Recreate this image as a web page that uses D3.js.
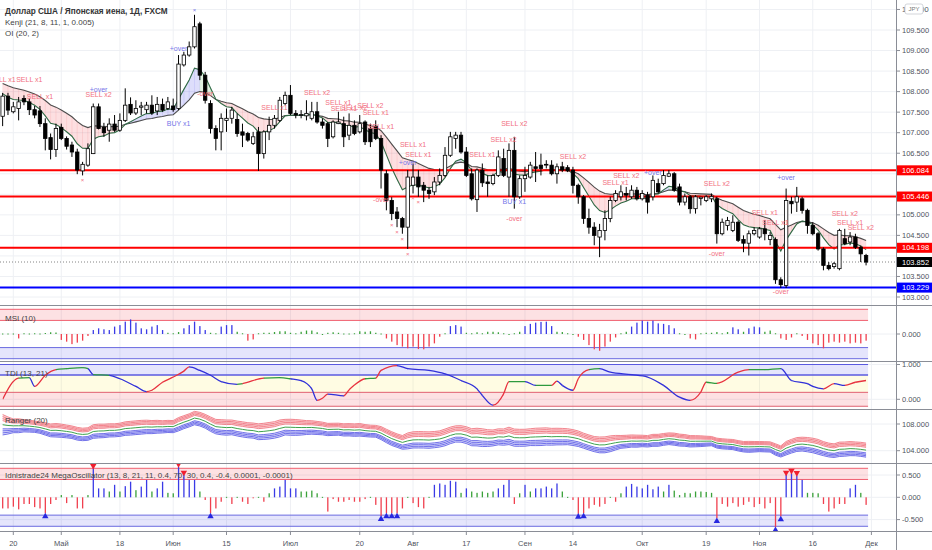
<!DOCTYPE html>
<html><head><meta charset="utf-8">
<script src="https://cdn.jsdelivr.net/npm/d3@7"></script>
<style>body{margin:0;background:#fff;}svg{display:block;font-family:"Liberation Sans",Arial,sans-serif;}</style>
</head><body><svg id="c" width="932" height="550"></svg>
<script>
// ---------------- DATA ----------------
const firstBar = -2; // bar index of first candle (Apr 16); index 0 = Apr 20
const opens = [
107.40,107.89,107.51,107.59,107.83,107.75,107.56,107.53,107.22,106.88,
106.59,107.13,106.86,106.70,106.53,106.07,106.21,106.49,107.63,107.13,
107.06,107.21,107.06,107.30,107.69,107.48,107.62,107.56,107.67,107.53,
107.69,107.59,107.65,107.59,108.65,108.89,109.09,109.65,108.40,107.71,
107.10,107.02,107.30,107.35,107.32,107.02,106.98,106.74,107.02,106.49,
107.02,107.18,107.30,107.71,107.91,107.47,107.43,107.41,107.35,107.51,
107.26,107.22,106.90,107.22,107.22,106.94,107.18,107.02,107.26,107.10,
107.16,106.86,106.00,105.35,105.07,104.91,104.70,105.72,105.92,105.72,
105.60,105.56,105.80,105.96,106.45,106.86,106.94,106.53,106.00,105.37,
106.09,105.80,105.76,105.96,106.37,105.92,106.57,105.44,105.88,105.92,
106.17,106.21,106.21,106.21,106.00,106.17,106.15,106.09,105.72,105.44,
104.91,104.70,104.46,104.62,104.91,105.35,105.44,105.52,105.44,105.60,
105.39,105.48,105.44,105.76,105.76,105.94,106.00,105.68,105.31,105.44,
105.15,105.40,105.35,105.39,105.39,104.54,104.74,104.62,104.82,104.40,
104.31,104.54,104.46,104.66,104.40,104.40,103.42,103.28,105.33,105.31,
105.39,105.11,104.74,104.54,104.17,103.77,103.74,103.69,104.42,104.34,
104.46,104.21,104.01];
const highs = [
107.97,107.97,107.75,107.87,107.91,107.83,107.65,107.65,107.35,106.98,
107.22,107.22,106.91,106.78,106.61,106.29,106.74,107.71,107.71,107.24,
107.35,107.43,107.47,108.08,107.86,107.79,107.75,107.75,107.91,107.87,
107.83,107.87,107.83,108.89,108.97,109.22,109.87,109.70,108.48,107.79,
107.18,107.47,107.59,107.63,107.47,107.22,107.02,107.02,107.14,107.06,
107.39,107.43,107.87,108.00,108.16,107.55,107.55,107.79,107.75,107.75,
107.35,107.26,107.30,107.51,107.39,107.47,107.30,107.43,107.30,107.22,
107.30,106.94,106.09,105.43,105.19,104.95,106.09,106.25,106.09,105.80,
105.68,105.92,106.13,106.65,107.02,107.02,107.02,106.65,106.13,106.13,
106.25,105.96,106.00,106.57,106.61,106.74,106.90,105.96,106.17,106.29,
106.53,106.49,106.33,106.33,106.25,106.29,106.21,106.17,105.76,105.48,
105.15,104.82,104.78,105.11,105.44,105.60,105.72,105.68,105.72,105.68,
105.60,105.56,105.96,105.88,106.09,106.09,106.04,105.76,105.52,105.48,
105.48,105.44,105.48,105.52,105.44,104.91,104.95,104.99,104.86,104.50,
104.62,104.70,104.70,104.87,104.58,104.45,103.48,105.64,105.44,105.68,
105.44,105.15,104.82,104.58,104.21,103.85,103.85,104.66,104.66,104.58,
104.54,104.25,104.05];
const lows = [
107.16,107.43,107.47,107.30,107.67,107.43,107.35,107.14,106.57,106.35,
106.41,106.82,106.59,106.41,105.99,105.96,106.17,106.48,107.08,106.90,
106.78,107.02,107.02,107.26,107.43,107.43,107.43,107.47,107.43,107.43,
107.51,107.55,107.51,107.55,108.61,108.85,109.05,108.28,107.71,106.98,
106.57,106.57,107.02,107.22,106.90,106.65,106.78,106.70,106.07,106.37,
106.82,107.10,107.26,107.67,107.43,107.35,107.35,107.30,107.30,107.22,
107.10,106.65,106.86,107.21,106.65,106.82,106.94,106.98,106.70,106.65,
106.82,105.64,105.11,104.87,104.70,104.54,104.17,105.52,105.44,105.31,
105.39,105.48,105.72,105.92,106.41,106.61,106.49,105.92,105.35,105.07,
105.68,105.44,105.72,105.92,105.92,105.44,105.15,105.39,105.56,105.88,
105.80,105.96,106.13,105.96,105.76,106.04,106.04,105.52,105.27,104.78,
104.54,104.26,103.97,104.38,104.82,105.31,105.35,105.35,105.39,105.35,
105.35,105.03,105.35,105.52,105.72,105.92,105.56,105.23,105.23,105.03,
105.03,105.23,105.31,105.31,104.30,104.50,104.62,104.58,104.34,104.09,
104.01,104.50,104.42,104.38,104.26,103.32,103.22,103.22,105.03,105.07,
105.03,104.54,104.50,104.13,103.65,103.65,103.69,103.65,104.26,104.26,
104.17,103.85,103.77];
const closes = [
107.89,107.55,107.63,107.75,107.75,107.56,107.43,107.22,106.86,106.59,
107.10,106.86,106.67,106.53,106.09,106.23,106.61,107.63,107.10,107.00,
107.21,107.06,107.30,107.67,107.48,107.59,107.65,107.67,107.48,107.69,
107.55,107.75,107.56,108.67,108.89,109.09,109.58,108.40,107.79,107.10,
106.86,107.35,107.35,107.55,106.98,106.94,106.82,106.90,106.49,107.02,
107.18,107.35,107.79,107.91,107.47,107.43,107.44,107.47,107.51,107.26,
107.18,106.86,107.26,107.26,106.90,107.18,106.98,107.22,106.78,106.78,
106.86,106.09,105.35,105.03,104.91,104.70,105.92,105.92,105.68,105.60,
105.52,105.80,105.96,106.45,106.90,106.94,106.53,105.96,105.39,106.09,
105.78,105.76,105.96,106.41,105.96,106.57,105.44,105.88,105.96,106.21,
106.13,106.13,106.23,106.00,106.17,106.09,106.07,105.72,105.44,104.91,
104.70,104.50,104.62,104.91,105.35,105.52,105.56,105.48,105.60,105.39,
105.52,105.31,105.84,105.56,105.96,106.00,105.60,105.31,105.44,105.15,
105.44,105.43,105.44,105.45,104.54,104.82,104.86,104.82,104.38,104.31,
104.54,104.62,104.66,104.54,104.50,103.42,103.30,105.35,105.27,105.44,
105.11,104.74,104.54,104.17,103.77,103.69,103.81,104.62,104.30,104.46,
104.21,104.05,103.85];

// Kenji EMA seeds read at the first visible bar
const kenjiPeriods = [8, 21];
const kenjiSeeds = [107.95, 108.20];

// OI levels
const redLevels = [106.084, 105.446, 104.198];
const blueLevels = [103.229];
const lastPrice = 103.852;

// Signal annotations on the price pane: bar index, text, price level
const signalBar   = [-2,3,5,16,16,31,31,36,49,57,61,62,64,67,68,69,69,74,75,76,88,92,94,94,94,105,113,115,120,132,132,141,143,144,145,156,157,159];
const signalText  = ["SELL x1","SELL x1","SELL x1","+over","SELL x2","+over","BUY x1","-over","SELL x1","SELL x2","SELL x1","SELL x1","SELL x2","SELL x2","SELL x1","SELL x1","-over","+over","SELL x1","SELL x1","SELL x1","SELL x2","SELL x2","BUY x1","-over","SELL x2","SELL x1","SELL x2","+over","SELL x2","-over","SELL x1","SELL x1","-over","+over","SELL x2","SELL x1","SELL x2"];
const signalPrice = [108.30,108.30,107.89,108.06,107.94,109.04,107.23,107.96,107.62,107.99,107.74,107.60,107.62,107.65,107.50,107.16,105.38,106.28,106.72,106.48,106.48,106.84,107.23,105.33,104.91,106.43,105.79,105.96,106.04,105.77,104.06,105.06,104.82,103.13,105.91,105.04,104.82,104.70];
const lowMarkBars = [13,71,72,73,74,75,76];
const highMarkBars = [34];

// MSI (10)
const msi = [
0.02,0.02,0.02,-0.18,0.03,0.02,0.03,0.02,0.04,0.07,
0.06,-0.24,-0.31,-0.41,-0.35,-0.27,-0.08,0.16,0.23,0.19,
0.16,0.30,0.36,0.50,0.59,0.46,0.23,0.19,0.30,0.36,
0.16,0.05,0.03,0.08,0.23,0.36,0.50,0.32,0.16,0.05,
0.03,0.30,0.36,0.36,0.09,0.03,-0.27,-0.22,0.03,0.05,
0.05,0.08,0.11,0.11,0.05,0.03,0.09,0.14,0.14,0.07,
0.00,0.05,0.07,0.05,0.02,0.02,0.03,0.11,0.09,0.11,
0.05,0.02,-0.18,-0.31,-0.45,-0.51,-0.58,-0.51,-0.61,-0.62,
-0.51,-0.38,-0.11,0.03,0.32,0.36,0.30,0.05,0.03,0.07,
0.03,0.09,0.09,0.07,0.03,0.00,0.03,0.09,0.32,0.41,
0.46,0.49,0.50,0.32,0.09,0.08,0.03,0.00,-0.11,-0.24,
-0.45,-0.62,-0.68,-0.51,-0.31,-0.14,0.03,0.09,0.30,0.46,
0.54,0.50,0.54,0.43,0.41,0.36,0.23,0.03,0.00,-0.18,
-0.22,0.03,0.05,0.05,0.08,0.03,0.08,0.27,0.19,0.09,
0.23,0.30,0.27,0.09,0.14,0.03,-0.18,-0.24,-0.14,0.03,
-0.08,-0.24,-0.38,-0.45,-0.58,-0.35,-0.31,-0.35,-0.31,-0.38,
-0.35,-0.38,-0.27];
const msiLevels = [1.0, 0.55, -0.55, -1.0];

// TDI (13, 21): points
const tdiBar = [-2,1,3,4,6,8,10,13,14,15,18,20,23,25,26,28,30,32,33,35,37,39,42,43,47,50,52,54,56,57,58,59,62,63,64,66,68,69,72,74,78,81,84,87,88,90,92,93,96,98,101,102,103,105,106,108,110,112,116,119,122,125,127,129,130,132,136,138,141,144,146,149,150,152,154,156,158,160];
const tdiVal = [0.00,0.61,0.62,0.37,0.69,0.85,0.88,0.91,0.88,0.71,0.69,0.59,0.37,0.22,0.26,0.49,0.64,0.81,0.93,0.83,0.69,0.51,0.43,0.45,0.61,0.62,0.59,0.54,0.30,-0.03,0.03,0.15,0.10,0.27,0.41,0.59,0.61,0.83,0.97,0.88,0.83,0.73,0.54,0.30,0.11,-0.17,0.16,0.51,0.51,0.40,0.40,0.52,0.40,0.26,0.59,0.85,0.88,0.78,0.71,0.64,0.40,0.06,-0.03,0.21,0.49,0.46,0.78,0.85,0.85,0.88,0.54,0.45,0.37,0.30,0.45,0.40,0.49,0.54];
const tdiLevels = [1.0, 0.7, 0.2, -0.2];

// Ranger (20)
const rangerPeriod = 20, rangerLines = 4;

// Idnistrade24 MegaOscillator
const mega = [
-0.25,-0.25,-0.21,-0.27,-0.15,-0.15,-0.22,-0.25,-0.36,-0.15,
-0.06,0.05,-0.13,0.05,-0.25,-0.25,0.05,0.65,0.20,0.20,
0.13,0.28,0.13,0.25,0.35,0.16,0.24,0.39,0.13,0.20,
0.35,0.10,0.09,0.69,0.50,0.39,0.39,0.13,-0.06,-0.36,
-0.25,-0.10,0.01,-0.15,0.01,-0.10,-0.15,-0.02,0.01,-0.10,
0.09,0.20,0.24,0.39,0.20,0.20,0.13,0.13,0.15,0.09,
0.01,-0.32,-0.04,-0.10,-0.10,-0.06,-0.10,-0.10,-0.04,0.01,
-0.17,-0.42,-0.36,-0.36,-0.36,-0.25,0.01,-0.13,-0.22,-0.25,
0.01,0.28,0.31,0.28,0.37,0.35,0.10,0.20,0.13,0.10,
0.13,0.10,0.13,0.20,0.28,0.39,-0.15,0.09,0.28,0.13,
0.20,0.20,0.24,0.20,0.31,0.13,0.01,-0.06,-0.37,-0.36,
-0.25,-0.17,-0.21,-0.15,0.01,-0.10,0.09,0.24,0.30,0.24,
0.20,0.28,0.18,0.24,0.13,0.28,0.15,0.05,0.10,0.09,
0.13,0.13,0.12,0.10,-0.47,-0.15,-0.21,-0.13,-0.21,-0.17,
-0.10,-0.22,-0.15,-0.25,-0.13,-0.67,-0.43,0.50,0.54,0.49,
0.39,0.10,0.10,0.09,-0.15,-0.32,-0.25,-0.15,-0.15,0.20,
0.28,0.10,-0.17];
const megaLevels = [0.65, 0.4, -0.4, -0.65];
const megaSellBars = [15,31,32,145,146,147];
const megaBuyBars = [6,37,69,70,71,72,106,107,132,143,144];

// X axis tick labels (bar index of the date)
const xTickBars = [0,9,20,30,40,52,65,75,85,96,105,118,130,140,150,161];
const xTickLabels = ["20","Май","18","Июн","15","Июл","20","Авг","17","Сен","14","Окт","19","Ноя","16","Дек"];

// Titles
const mainTitle = "Доллар США / Японская иена, 1Д, FXCM";
const legendLines = ["Kenji (21, 8, 11, 1, 0.005)", "OI (20, 2)"];
const paneTitles = ["MSI (10)", "TDI (13, 21)", "Ranger (20)", "Idnistrade24 MegaOscillator (13, 8, 21, 11, 0.4, 70, 30, 0.4, -0.4, 0.0001, -0.0001)"];

// ---------------- CHART ----------------
const svg = d3.select("#c");
const plotR = 896, W = 932;
const bars = opens.map((o,k)=>({i:k+firstBar,o:o,h:highs[k],l:lows[k],c:closes[k]}));
const x = d3.scaleLinear().domain([0,161]).range([13.3,871.4]);
const lastX = x(bars[bars.length-1].i) + 2;

const panes = {
  main:{top:0,bot:305}, msi:{top:306,bot:361}, tdi:{top:362,bot:409},
  ranger:{top:410,bot:463}, mega:{top:464,bot:531}
};
const yMain = d3.scaleLinear().domain([103,109.5]).range([297,30]);
const yMsi = d3.scaleLinear().domain([-1,1]).range([358.7,309.3]);
const yTdi = d3.scaleLinear().domain([0,1]).range([399.3,364.5]);
const yRng = d3.scaleLinear().domain([104,108]).range([450.7,424]);
const yMega = d3.scaleLinear().domain([0,0.5]).range([497.3,475]);

const defs = svg.append("defs");
Object.entries(panes).forEach(([k,p])=>{
  defs.append("clipPath").attr("id","clip-"+k).append("rect")
    .attr("x",0).attr("y",p.top).attr("width",plotR).attr("height",p.bot-p.top);
});
const gridC = "#eef0f4";
const g = svg.append("g");

// vertical grid
g.selectAll(".vg").data(xTickBars).enter().append("line")
  .attr("x1",d=>x(d)).attr("x2",d=>x(d)).attr("y1",0).attr("y2",531)
  .attr("stroke",gridC).attr("stroke-width",1);
// main horizontal grid
const mainTicks = d3.range(103, 110.01, 0.5);
g.selectAll(".hg").data(mainTicks).enter().append("line")
  .attr("x1",0).attr("x2",plotR).attr("y1",d=>yMain(d)).attr("y2",d=>yMain(d))
  .attr("stroke",gridC);
// indicator grids
[[yMsi,[0]],[yTdi,[0,1]],[yRng,[104,108]],[yMega,[-0.5,0,0.5]]].forEach(([sc,vals])=>{
  vals.forEach(v=>g.append("line").attr("x1",0).attr("x2",plotR).attr("y1",sc(v)).attr("y2",sc(v)).attr("stroke",gridC));
});

// ---------- main pane ----------
const gm = svg.append("g").attr("clip-path","url(#clip-main)");
function ema(src,n,seed){const a=2/(n+1);let prev=seed;return src.map((v,k)=>{prev = k===0?seed:prev+a*(v-prev);return prev;});}
const fast = ema(closes,kenjiPeriods[0],kenjiSeeds[0]);
const slow = ema(closes,kenjiPeriods[1],kenjiSeeds[1]);
for(let k=0;k<bars.length-1;k++){
  const f = (fast[k]+fast[k+1])/2, s=(slow[k]+slow[k+1])/2;
  let col;
  if(f<s) col="rgba(242,54,69,0.16)";
  else col = (slow[k+1]>=slow[k]) ? "rgba(90,90,235,0.2)" : "rgba(76,175,80,0.17)";
  const x0=x(bars[k].i), x1=x(bars[k+1].i);
  gm.append("path").attr("d",`M${x0},${yMain(fast[k])}L${x1},${yMain(fast[k+1])}L${x1},${yMain(slow[k+1])}L${x0},${yMain(slow[k])}Z`)
    .attr("fill",col).attr("stroke",col).attr("stroke-width",0.3);
}
const lineGen = (arr,sc)=>d3.line().x((d,k)=>x(bars[k].i)).y(d=>sc(d))(arr);
gm.append("path").attr("d",lineGen(slow,yMain)).attr("fill","none").attr("stroke","#4d4d4d").attr("stroke-width",1.1);
gm.append("path").attr("d",lineGen(fast,yMain)).attr("fill","none").attr("stroke","#2f6a45").attr("stroke-width",1.1);

// OI levels
redLevels.forEach(v=>gm.append("line").attr("x1",0).attr("x2",plotR).attr("y1",yMain(v)).attr("y2",yMain(v)).attr("stroke","#ff0000").attr("stroke-width",2));
blueLevels.forEach(v=>gm.append("line").attr("x1",0).attr("x2",plotR).attr("y1",yMain(v)).attr("y2",yMain(v)).attr("stroke","#0000ff").attr("stroke-width",2));
gm.append("line").attr("x1",0).attr("x2",plotR).attr("y1",yMain(lastPrice)).attr("y2",yMain(lastPrice))
  .attr("stroke","#666").attr("stroke-width",0.8).attr("stroke-dasharray","1,2");

// candles
const cg = gm.append("g");
bars.forEach(b=>{
  const cx = x(b.i);
  cg.append("line").attr("x1",cx).attr("x2",cx).attr("y1",yMain(b.h)).attr("y2",yMain(b.l)).attr("stroke","#000").attr("stroke-width",1);
  const top = yMain(Math.max(b.o,b.c)), bot=yMain(Math.min(b.o,b.c));
  const up = b.c>=b.o;
  cg.append("rect").attr("x",cx-1.7).attr("y",top).attr("width",3.4).attr("height",Math.max(0.8,bot-top))
    .attr("fill",up?"#fff":"#000").attr("stroke","#000").attr("stroke-width",0.8);
});

// signals
signalBar.forEach((b,k)=>{
  const t = signalText[k];
  const col = (t.startsWith("SELL")||t==="-over") ? "#f2707f" : "#7575e8";
  gm.append("text").attr("x",x(b)).attr("y",yMain(signalPrice[k])+2.5).attr("text-anchor","middle")
    .attr("font-size",7).attr("fill",col).text(t);
});
lowMarkBars.forEach(b=>{
  const bar = bars[b-firstBar];
  gm.append("text").attr("x",x(b)).attr("y",yMain(bar.l)+7).attr("text-anchor","middle").attr("font-size",6).attr("fill","#f2707f").text("×");
});
highMarkBars.forEach(b=>{
  const bar = bars[b-firstBar];
  gm.append("text").attr("x",x(b)).attr("y",yMain(bar.h)-3).attr("text-anchor","middle").attr("font-size",6).attr("fill","#7575e8").text("×");
});

// legend
svg.append("text").attr("x",5).attr("y",13.5).attr("font-size",8.2).attr("font-weight",600).attr("fill","#333").text(mainTitle);
legendLines.forEach((t,k)=>svg.append("text").attr("x",5).attr("y",25+k*11.3).attr("font-size",8).attr("fill","#444").text(t));

// ---------- MSI pane ----------
const gs = svg.append("g").attr("clip-path","url(#clip-msi)");
gs.append("rect").attr("x",0).attr("width",lastX).attr("y",yMsi(msiLevels[0])).attr("height",yMsi(msiLevels[1])-yMsi(msiLevels[0])).attr("fill","rgba(242,54,69,0.15)");
gs.append("rect").attr("x",0).attr("width",lastX).attr("y",yMsi(msiLevels[2])).attr("height",yMsi(msiLevels[3])-yMsi(msiLevels[2])).attr("fill","rgba(80,80,235,0.15)");
msiLevels.forEach((v,k)=>gs.append("line").attr("x1",0).attr("x2",lastX).attr("y1",yMsi(v)).attr("y2",yMsi(v)).attr("stroke",k<2?"#f06070":"#6a6ae0").attr("stroke-width",1));
msi.forEach((v,k)=>{
  const col = v>=0.15?"#3a3ae6":(v>=-0.05?"#3aa13a":"#f0404f");
  const y0=yMsi(0), y1=yMsi(v);
  gs.append("rect").attr("x",x(bars[k].i)-0.6).attr("width",1.3)
    .attr("y",Math.min(y0,y1)).attr("height",Math.max(1,Math.abs(y1-y0))).attr("fill",col);
});
svg.append("text").attr("x",5).attr("y",321).attr("font-size",8).attr("fill","#444").text(paneTitles[0]);

// ---------- TDI pane ----------
const gt = svg.append("g").attr("clip-path","url(#clip-tdi)");
gt.append("rect").attr("x",0).attr("width",lastX).attr("y",yTdi(tdiLevels[0])).attr("height",yTdi(tdiLevels[1])-yTdi(tdiLevels[0])).attr("fill","rgba(80,80,235,0.15)");
gt.append("rect").attr("x",0).attr("width",lastX).attr("y",yTdi(tdiLevels[1])).attr("height",yTdi(tdiLevels[2])-yTdi(tdiLevels[1])).attr("fill","rgba(255,235,59,0.14)");
gt.append("rect").attr("x",0).attr("width",lastX).attr("y",yTdi(tdiLevels[2])).attr("height",yTdi(tdiLevels[3])-yTdi(tdiLevels[2])).attr("fill","rgba(242,54,69,0.15)");
tdiLevels.forEach((v,k)=>gt.append("line").attr("x1",0).attr("x2",lastX).attr("y1",yTdi(v)).attr("y2",yTdi(v)).attr("stroke",k<2?"#5a5ae0":"#e06070").attr("stroke-width",k===1?1.4:1));
const tdiPts = tdiBar.map((b,k)=>[x(b),yTdi(tdiVal[k])]);
const tdiPath = d3.line().curve(d3.curveMonotoneX)(tdiPts);
for(let k=0;k<tdiPts.length-1;k++){
  const d = tdiVal[k+1]-tdiVal[k];
  const col = d>0.04?"#e8323f":(d<-0.04?"#3030d8":"#2e9a3e");
  const cid="tc"+k;
  defs.append("clipPath").attr("id",cid).append("rect").attr("x",tdiPts[k][0]).attr("y",362).attr("width",tdiPts[k+1][0]-tdiPts[k][0]+0.3).attr("height",47);
  gt.append("path").attr("d",tdiPath).attr("fill","none").attr("stroke",col).attr("stroke-width",1.3)
    .attr("clip-path",`url(#${cid})`);
}
svg.append("text").attr("x",5).attr("y",375.5).attr("font-size",8).attr("fill","#444").text(paneTitles[1]);

// ---------- Ranger pane ----------
const gr = svg.append("g").attr("clip-path","url(#clip-ranger)");
const rCenter = ema(closes,5,closes[0]);
const rRange = bars.map((b,k)=>{const s=Math.max(0,k-rangerPeriod+1);return d3.mean(d3.range(s,k+1),j=>highs[j]-lows[j]);});
const off = (m)=> m===0 ? 0 : Math.sign(m)*(0.75 + 0.38*(Math.abs(m)-1));
const bandLine = (m)=>d3.line().x((d,k)=>x(bars[k].i)).y((d,k)=>yRng(rCenter[k]+off(m)*rRange[k]));
const bandArea = (m0,m1)=>d3.area().x((d,k)=>x(bars[k].i)).y0((d,k)=>yRng(rCenter[k]+off(m0)*rRange[k])).y1((d,k)=>yRng(rCenter[k]+off(m1)*rRange[k]));
gr.append("path").attr("d",bandArea(1,rangerLines)(bars)).attr("fill","rgba(242,54,69,0.2)");
gr.append("path").attr("d",bandArea(-1,-rangerLines)(bars)).attr("fill","rgba(80,80,235,0.2)");
for(let m=1;m<=rangerLines;m++){
  gr.append("path").attr("d",bandLine(m)(bars)).attr("fill","none").attr("stroke","#f07a84").attr("stroke-width",0.9);
  gr.append("path").attr("d",bandLine(-m)(bars)).attr("fill","none").attr("stroke","#6464e6").attr("stroke-width",0.9);
}
gr.append("path").attr("d",bandLine(0)(bars)).attr("fill","none").attr("stroke","#3fa34d").attr("stroke-width",1);
svg.append("text").attr("x",5).attr("y",422.5).attr("font-size",8).attr("fill","#444").text(paneTitles[2]);

// ---------- Mega pane ----------
const gg = svg.append("g").attr("clip-path","url(#clip-mega)");
gg.append("rect").attr("x",0).attr("width",lastX).attr("y",yMega(megaLevels[0])).attr("height",yMega(megaLevels[1])-yMega(megaLevels[0])).attr("fill","rgba(242,54,69,0.15)");
gg.append("rect").attr("x",0).attr("width",lastX).attr("y",yMega(megaLevels[2])).attr("height",yMega(megaLevels[3])-yMega(megaLevels[2])).attr("fill","rgba(80,80,235,0.15)");
megaLevels.forEach((v,k)=>gg.append("line").attr("x1",0).attr("x2",lastX).attr("y1",yMega(v)).attr("y2",yMega(v)).attr("stroke",k<2?"#f06070":"#6a6ae0").attr("stroke-width",1));
mega.forEach((v,k)=>{
  const col = v>0.17?"#3a3ae6":(v>=0?"#3aa13a":"#f0404f");
  const y0=yMega(0), y1=yMega(v);
  gg.append("rect").attr("x",x(bars[k].i)-0.6).attr("width",1.3)
    .attr("y",Math.min(y0,y1)).attr("height",Math.max(1,Math.abs(y1-y0))).attr("fill",col);
});
const tri = d3.symbol().type(d3.symbolTriangle).size(18);
megaSellBars.forEach(b=>{
  gg.append("path").attr("d",tri()).attr("fill","#f0202f")
    .attr("transform",`translate(${x(b)},${yMega(mega[b-firstBar])-2.5}) rotate(180)`);
});
megaBuyBars.forEach(b=>{
  gg.append("path").attr("d",tri()).attr("fill","#2828e0")
    .attr("transform",`translate(${x(b)},${yMega(mega[b-firstBar])+3})`);
});
svg.append("text").attr("x",5).attr("y",478).attr("font-size",8).attr("fill","#444").text(paneTitles[3]);

// ---------- axes ----------
const ax = svg.append("g");
ax.append("rect").attr("x",plotR).attr("y",0).attr("width",W-plotR).attr("height",550).attr("fill","#fff");
ax.append("line").attr("x1",plotR+0.5).attr("x2",plotR+0.5).attr("y1",0).attr("y2",550).attr("stroke","#8a8d96").attr("stroke-width",1);
const levelLabelYs = redLevels.concat(blueLevels,[lastPrice]).map(v=>yMain(v));
const axisLabel = (y,t)=>{
  ax.append("line").attr("x1",plotR).attr("x2",plotR+4).attr("y1",y).attr("y2",y).attr("stroke","#8a8d96");
  ax.append("text").attr("x",plotR+6).attr("y",y+2.6).attr("font-size",7.5).attr("fill","#50535e").text(t);
};
mainTicks.forEach(v=>{
  const y=yMain(v);
  if(levelLabelYs.some(ly=>Math.abs(ly-y)<8)) return;
  axisLabel(y,d3.format(".3f")(v));
});
[[yMsi,[0]],[yTdi,[0,1]],[yRng,[104,108]],[yMega,[-0.5,0,0.5]]].forEach(([sc,vals])=>vals.forEach(v=>axisLabel(sc(v),d3.format(".3f")(v).replace("−","-"))));
const levelBox = (v,col)=>{
  const y=yMain(v);
  ax.append("rect").attr("x",plotR+1).attr("y",y-5).attr("width",W-plotR-1).attr("height",10).attr("fill",col);
  ax.append("text").attr("x",plotR+6).attr("y",y+2.6).attr("font-size",7.5).attr("fill","#fff").text(d3.format(".3f")(v));
};
redLevels.forEach(v=>levelBox(v,"#ff0000"));
blueLevels.forEach(v=>levelBox(v,"#0000ff"));
levelBox(lastPrice,"#000");
// currency badge
ax.append("rect").attr("x",905).attr("y",4).attr("width",18).attr("height",10).attr("rx",2).attr("fill","#fff").attr("stroke","#c8cad0").attr("stroke-width",0.8);
ax.append("text").attr("x",914).attr("y",11.3).attr("text-anchor","middle").attr("font-size",6).attr("fill","#777").text("JPY");

// pane separators
[305.5,361.5,409.5,463.5,531.5].forEach(y=>svg.append("line").attr("x1",0).attr("x2",W).attr("y1",y).attr("y2",y).attr("stroke","#8a8d96").attr("stroke-width",1.2));

// x axis
xTickBars.forEach((b,k)=>{
  ax.append("line").attr("x1",x(b)).attr("x2",x(b)).attr("y1",532).attr("y2",535).attr("stroke","#8a8d96");
  ax.append("text").attr("x",x(b)).attr("y",546).attr("text-anchor","middle").attr("font-size",7.5).attr("fill","#50535e").text(xTickLabels[k]);
});
</script></body></html>
